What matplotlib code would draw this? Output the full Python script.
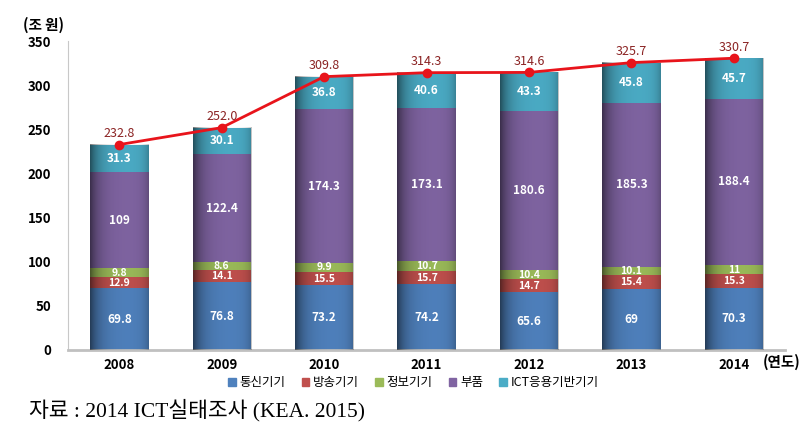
import numpy as np
import matplotlib.pyplot as plt
from matplotlib.patches import Patch

plt.rcParams['font.family'] = ['Noto Sans CJK KR', 'DejaVu Sans']

# 데이터 (단위: 조 원)
years = ['2008', '2009', '2010', '2011', '2012', '2013', '2014']
series_names = ['통신기기', '방송기기', '정보기기', '부품', 'ICT응용기반기기']
comm = [69.8, 76.8, 73.2, 74.2, 65.6, 69, 70.3]
broadcast = [12.9, 14.1, 15.5, 15.7, 14.7, 15.4, 15.3]
info = [9.8, 8.6, 9.9, 10.7, 10.4, 10.1, 11]
parts = [109, 122.4, 174.3, 173.1, 180.6, 185.3, 188.4]
ict_app = [31.3, 30.1, 36.8, 40.6, 43.3, 45.8, 45.7]
totals = [232.8, 252.0, 309.8, 314.3, 314.6, 325.7, 330.7]
total_labels = ['232.8', '252.0', '309.8', '314.3', '314.6', '325.7', '330.7']

series = [comm, broadcast, info, parts, ict_app]
colors = ['#4f81bd', '#c0504d', '#9bbb59', '#8064a2', '#4bacc6']

fig = plt.figure(figsize=(8.11, 4.38), dpi=100)
ax = fig.add_axes([0.084, 0.201, 0.884, 0.705])

x = np.arange(len(years))
width = 0.57
bottom = np.zeros(len(years))
for vals, col in zip(series, colors):
    vals = np.array(vals, dtype=float)
    ax.bar(x, vals, width, bottom=bottom, color=col, zorder=2)
    for xi, b, v in zip(x, bottom, vals):
        fs = 8.5 if v > 20 else 7.5
        ax.text(xi, b + v / 2, f'{v:g}', ha='center', va='center', color='white',
                fontsize=fs, fontweight='bold', zorder=5)
    bottom += vals

# 원통 느낌의 음영
t = np.linspace(0, 1, 200)
shade = 0.55 * np.exp(-t * 6) + 0.25 * np.exp(-(1 - t) * 10)
overlay = np.zeros((1, len(t), 4))
overlay[0, :, 3] = shade
for xi, top in zip(x, bottom):
    ax.imshow(overlay, extent=[xi - width / 2, xi + width / 2, 0, top],
              aspect='auto', zorder=3, interpolation='bilinear')

# 합계 선
ax.plot(x, totals, color='#e8141b', lw=2, marker='o', ms=6, zorder=6)
for xi, tv, tl in zip(x, totals, total_labels):
    ax.text(xi, tv + 5, tl, ha='center', va='bottom', color='#8b2323',
            fontsize=9, zorder=6)

ax.set_xlim(-0.5, 6.5)
ax.set_ylim(0, 350)
ax.set_yticks(range(0, 351, 50))
ax.set_xticks(x)
ax.set_xticklabels(years, fontweight='bold', fontsize=9)
ax.tick_params(axis='both', length=0, labelsize=9.5)
ax.tick_params(axis='y', pad=12)
ax.tick_params(axis='x', pad=6)
for lab in ax.get_yticklabels():
    lab.set_fontweight('bold')
for s in ['top', 'right']:
    ax.spines[s].set_visible(False)
ax.spines['left'].set_color('#c8c8c8')
ax.spines['bottom'].set_color('#c0c0c0')
ax.spines['bottom'].set_linewidth(2)

fig.text(0.028, 0.943, '(조 원)', fontsize=10.5, fontweight='bold', va='center')
fig.text(0.94, 0.173, '(연도)', fontsize=10.5, fontweight='bold', va='center')

handles = [Patch(color=c, label=n) for c, n in zip(colors, series_names)]
fig.legend(handles=handles, loc='center', bbox_to_anchor=(0.51, 0.126), ncol=5,
           frameon=False, fontsize=9, handlelength=0.6, handleheight=0.6,
           handletextpad=0.3, columnspacing=1.3)

fig.text(0.036, 0.063, '자료 : 2014 ICT실태조사 (KEA. 2015)', fontsize=15.5,
         va='center', family=['Liberation Serif', 'Noto Sans CJK KR'])

fig.savefig('out.png', dpi=100)
